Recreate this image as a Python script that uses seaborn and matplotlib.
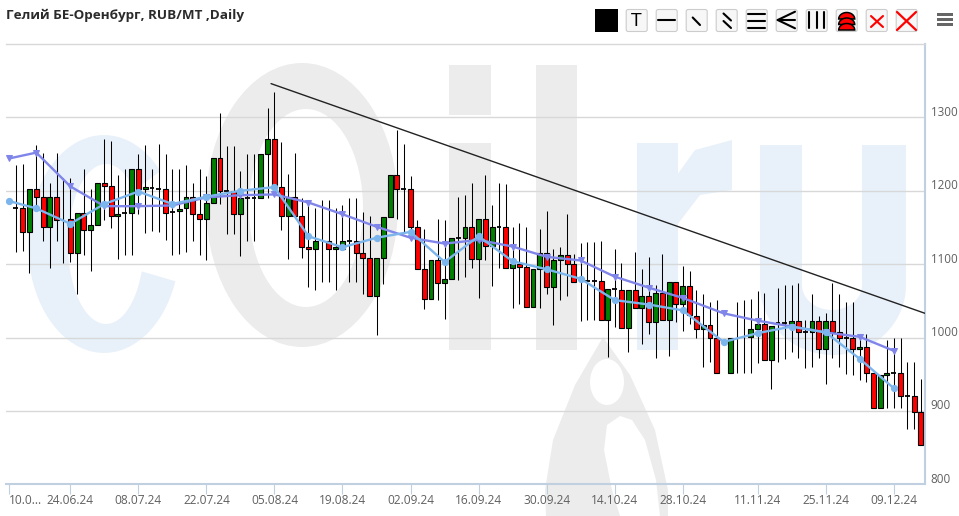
import numpy as np
import matplotlib
matplotlib.use('Agg')
import matplotlib.pyplot as plt
from matplotlib.patches import Rectangle, Ellipse, Polygon, FancyBboxPatch
from matplotlib.transforms import ScaledTranslation
import seaborn as sns

nan = float('nan')

# candles, first one is index 1. red when close < open
candle_open = [
    1176, 1176, 1144, 1202, 1191, 1151, 1191, nan, 1161, 1115,
    1170, 1146, 1153, 1210, 1207, 1165, 1170, 1170, 1229, 1202,
    1204, 1203, 1203, 1171, 1172, 1176, 1191, 1169, 1161, 1184,
    1244, 1200, 1200, 1169, 1190, 1190, 1190, 1250, 1270, 1205,
    1165, 1191, 1165, 1124, 1120, nan, 1131, 1120, 1120, 1132,
    1132, 1115, 1109, 1056, 1109, 1164, 1221, 1203, 1202, 1150,
    1093, 1053, 1105, 1074, 1080, 1136, 1136, 1151, 1107, 1162,
    1125, 1151, 1151, 1095, 1100, 1096, 1041, 1094, 1115, 1069,
    1106, 1113, 1100, nan, 1077, 1077, 1077, 1024, 1066, 1065,
    1013, 1065, 1040, 1057, 1021, 1061, 1024, 1075, 1046, 1070,
    1030, 1011, 1017, 1000, nan, 951, nan, nan, 1001, 1012,
    1019, 969, 1020, 1020, 1019, 1023, 1008, 1008, 1023, 985,
    1023, 1008, 999, 999, 985, 987, 951, 904, 949, 952,
    951, 920, 920, 899]
candle_close = [
    1176, 1144, 1202, 1191, 1151, 1191, 1160, nan, 1115, 1170,
    1146, 1153, 1210, 1207, 1165, 1169, 1170, 1229, 1202, 1205,
    1204, 1203, 1170, 1171, 1175, 1191, 1169, 1161, 1184, 1244,
    1200, 1200, 1169, 1190, 1190, 1190, 1250, 1270, 1205, 1165,
    1191, 1165, 1124, 1120, 1131, nan, 1120, 1124, 1132, 1132,
    1115, 1109, 1056, 1109, 1164, 1221, 1203, 1203, 1150, 1093,
    1053, 1105, 1074, 1080, 1135, 1136, 1150, 1107, 1162, 1125,
    1151, 1151, 1095, 1100, 1096, 1041, 1094, 1115, 1069, 1106,
    1113, 1100, 1075, nan, 1077, 1077, 1024, 1066, 1066, 1013,
    1065, 1040, 1057, 1021, 1061, 1024, 1075, 1046, 1070, 1031,
    1011, 1017, 1000, 951, nan, 999, nan, nan, 1012, 1019,
    969, 1016, 1020, 1020, 1023, 1008, 1008, 1023, 985, 1023,
    1008, 1000, 999, 985, 987, 951, 904, 949, 952, 952,
    920, 920, 899, 854]
candle_high = [
    1235, 1236, 1202, 1262, 1251, 1211, 1251, 1218, 1218, 1170,
    1230, 1203, 1210, 1271, 1268, 1222, 1230, 1230, 1250, 1262,
    1230, 1264, 1250, 1230, 1230, 1235, 1210, 1230, 1220, 1244,
    1306, 1261, 1261, 1227, 1250, 1250, 1250, 1313, 1334, 1266,
    1223, 1251, 1190, 1188, 1176, 1188, 1188, 1176, 1180, 1190,
    1190, 1171, 1166, 1109, 1164, 1221, 1283, 1264, 1220, 1160,
    1148, 1105, 1161, 1160, 1135, 1192, 1194, 1210, 1162, 1221,
    1181, 1210, 1209, 1150, 1156, 1151, 1094, 1148, 1172, 1121,
    1124, 1169, 1114, 1129, 1130, 1130, 1132, 1066, 1120, 1101,
    1065, 1117, 1093, 1110, 1071, 1114, 1075, 1076, 1098, 1091,
    1065, 1060, 1049, 1051, nan, 999, 1048, 1051, 1052, 1063,
    1061, 1016, 1068, 1071, 1071, 1074, 1024, 1060, 1030, 1034,
    1074, 1059, 1049, 1049, 1005, 1005, 951, 949, 997, 999,
    999, 966, 966, 944]
candle_low = [
    1117, 1118, 1088, 1178, 1132, 1095, 1132, 1102, 1103, 1060,
    1113, 1091, 1153, 1160, 1149, 1107, 1113, 1113, 1169, 1143,
    1145, 1144, 1133, 1113, 1114, 1117, 1132, 1113, 1105, 1184,
    1182, 1141, 1141, 1111, 1132, 1132, 1190, 1190, 1205, 1147,
    1107, 1165, 1109, 1069, 1065, 1076, 1076, 1065, 1120, 1076,
    1076, 1059, 1056, 1004, 1073, 1164, 1162, 1143, 1137, 1093,
    1039, 1053, 1051, 1025, 1081, 1078, 1083, 1095, 1054, 1106,
    1070, 1095, 1095, 1040, 1046, 1041, 1041, 1040, 1060, 1017,
    1051, 1057, 1075, 1022, 1024, 1024, 1024, 973, 1014, 1013,
    980, 1040, 991, 1005, 972, 1024, 975, 1021, 1009, 1019,
    999, 960, 967, 951, nan, 951, 951, 951, 952, 965,
    969, 930, 967, 971, 980, 972, 959, 960, 972, 937,
    972, 960, 950, 949, 942, 939, 904, 904, 904, 904,
    904, 875, 875, 854]

# the two moving averages have a point only on the labelled days
ma_days = [0, 4, 9, 14, 19, 24, 29, 34, 39, 44, 49, 54, 59, 64, 69, 74, 79, 84, 89, 94, 99, 105, 110, 115, 120, 125, 130]
ma_slow = [1244, 1252, 1206, 1179, 1179, 1180, 1191, 1194, 1195, 1184, 1168, 1151, 1136, 1128,
           1133, 1124, 1110, 1105, 1083, 1068, 1054, 1033, 1023, 1015, 1007, 1001, 982]
ma_fast = [1186, 1176, 1155, 1182, 1199, 1182, 1192, 1200, 1205, 1138, 1123, 1136, 1144, 1103,
           1138, 1104, 1093, 1080, 1051, 1045, 1037, 994, 1006, 1015, 1007, 971, 931]

trend_days = [38.5, 134.6]
trend_vals = [1346, 1033]

tick_days = [0, 9, 19, 29, 39, 49, 59, 69, 79, 89, 99, 110, 120, 130]
tick_labels = ['10.0...', '24.06.24', '08.07.24', '22.07.24', '05.08.24', '19.08.24', '02.09.24',
               '16.09.24', '30.09.24', '14.10.24', '28.10.24', '11.11.24', '25.11.24', '09.12.24']
y_ticks = [800, 900, 1000, 1100, 1200, 1300]

title = 'Гелий БЕ-Оренбург, RUB/MT ,Daily'

sns.set_theme(style='white')
plt.rcParams['font.family'] = ['Open Sans', 'DejaVu Sans']

W, H = 959, 516
fig = plt.figure(figsize=(W / 100, H / 100), dpi=100, facecolor='white')

# background layer in pixels: watermark and toolbar
bg = fig.add_axes([0, 0, 1, 1], zorder=-1)
bg.set_xlim(0, W)
bg.set_ylim(H, 0)
bg.axis('off')

WM_GRAY = '#ececec'
WM_BLUE = '#e8f1fa'


def arc(cx, cy, rx, ry, a0, a1):
    t = np.radians(np.linspace(a0, a1, 60))
    return np.column_stack([cx + rx * np.cos(t), cy - ry * np.sin(t)])


# c
bg.add_patch(Polygon(np.vstack([arc(104, 244, 76, 109, 42, 340), arc(106, 244, 38, 80, 340, 42)]), color=WM_BLUE, lw=0))
# O
bg.add_patch(Ellipse((302, 205), 192, 284, color=WM_GRAY, lw=0))
bg.add_patch(Ellipse((306, 208), 114, 198, color='white', lw=0))
# i, l
bg.add_patch(Rectangle((449, 65), 42, 50, color=WM_GRAY, lw=0))
bg.add_patch(Rectangle((449, 143), 42, 207, color=WM_GRAY, lw=0))
bg.add_patch(Rectangle((536, 65), 41, 285, color=WM_GRAY, lw=0))
# drop
bg.add_patch(Polygon([(603, 337), (575, 385), (553, 440), (545, 490), (546, 516), (668, 516), (668, 490),
                      (655, 430), (630, 375)], color=WM_GRAY, lw=0))
bg.add_patch(Ellipse((607, 382), 34, 46, color='white', lw=0))
bg.add_patch(Polygon([(620, 416), (607, 425), (604, 450), (612, 490), (620, 516), (660, 516), (656, 480),
                      (645, 440), (632, 420)], color='white', lw=0))
# r
bg.add_patch(Rectangle((637, 143), 41, 207, color=WM_BLUE, lw=0))
bg.add_patch(Polygon([(677, 175), (695, 150), (732, 140), (732, 190), (700, 195), (677, 225)], color=WM_BLUE, lw=0))
# u
bg.add_patch(Polygon(np.vstack([[(760, 145)], arc(833, 285, 73, 70, 180, 360), [(906, 145), (862, 145)],
                                arc(832, 285, 30, 25, 360, 180), [(802, 145)]]), color=WM_BLUE, lw=0))

bg.text(6, 15, title, fontsize=9.7, fontweight='bold', color='#2b2b2b', va='center', ha='left')

# toolbar
bg.add_patch(Rectangle((595, 9), 23, 23, color='black', lw=0))
for cx in [636.7, 666.7, 696.7, 726.7, 756.7, 786.7, 816.7, 846.7, 876.7, 906.7]:
    bg.add_patch(FancyBboxPatch((cx - 10, 10), 20, 21, boxstyle='round,pad=0.5,rounding_size=2',
                                fc='#f7f7f7', ec='#cccccc', lw=0.8))
bg.text(636.7, 21, 'T', fontsize=14, color='black', ha='center', va='center')
bg.plot([657.7, 675], [20, 20], color='black', lw=1.5)
bg.plot([692.7, 700], [17.5, 25], color='black', lw=1.5)
bg.plot([723.5, 731], [13.5, 20.5], color='black', lw=1.5)
bg.plot([723.5, 731], [21, 28], color='black', lw=1.5)
for y in [14, 20.7, 28.3]:
    bg.plot([748, 765], [y, y], color='black', lw=1.5)
for y in [11.7, 20, 28.3]:
    bg.plot([777.7, 795], [20, y], color='black', lw=1.5)
for x in [809.3, 816.7, 824.3]:
    bg.plot([x, x], [11.7, 28.3], color='black', lw=1.5)
for y in [19, 24.5, 30]:
    bg.add_patch(Polygon(arc(846.7, y, 8, 6.5, 0, 180), fc='red', ec='black', lw=1.1))
bg.plot([871, 883], [16, 27], color='red', lw=1.5)
bg.plot([871, 883], [27, 16], color='red', lw=1.5)
bg.plot([897, 916], [12, 30], color='red', lw=1.6)
bg.plot([897, 916], [30, 12], color='red', lw=1.6)
for y in [14.5, 19.5, 24.5]:
    bg.add_patch(Rectangle((936.7, y - 1.5), 16.3, 3, color='#666666', lw=0))

# main chart
ax = fig.add_axes([6 / W, (H - 484.3) / H, 919 / W, 440.3 / H], zorder=1)
ax.patch.set_visible(False)

days = np.arange(1, 135)
o = np.array(candle_open)
c = np.array(candle_close)
hi = np.array(candle_high)
lo = np.array(candle_low)

ax.vlines(days, lo, hi, color='black', lw=0.75, zorder=2)
red = c < o
green = c > o
doji = c == o
ax.bar(days[red], (o - c)[red], bottom=c[red], width=0.72, color='#ff0000', edgecolor='black', lw=0.8, zorder=3)
ax.bar(days[green], (c - o)[green], bottom=o[green], width=0.72, color='#008000', edgecolor='black', lw=0.8, zorder=3)
ax.hlines(c[doji], days[doji] - 0.36, days[doji] + 0.36, color='black', lw=1.3, zorder=3)

sns.lineplot(x=trend_days, y=trend_vals, color='#222222', lw=1, ax=ax, zorder=4)
sns.lineplot(x=ma_days, y=ma_slow, color='#8085e9', lw=1.7, marker='v', markersize=4.5,
             markeredgecolor='#8085e9', ax=ax, zorder=5)
sns.lineplot(x=ma_days, y=ma_fast, color='#7cb5ec', lw=1.7, marker='o', markersize=4.5,
             markeredgecolor='#7cb5ec', ax=ax, zorder=6)

ax.set_xlim(-0.448, 134.6)
ax.set_ylim(800, 1400)
ax.set_xlabel('')
ax.set_ylabel('')

ax.set_axisbelow(True)
ax.yaxis.grid(True, color='#d8d8d8', lw=1)
ax.xaxis.grid(False)
ax.yaxis.tick_right()
ax.set_yticks(y_ticks)
ax.set_yticklabels([str(v) for v in y_ticks])
ax.tick_params(axis='y', length=0, pad=4, labelsize=8.4, labelcolor='#606060')
shift = ScaledTranslation(0, -1.1 / 72, fig.dpi_scale_trans)
for lab in ax.get_yticklabels():
    lab.set_va('bottom')
    lab.set_transform(lab.get_transform() + shift)
ax.set_xticks(tick_days)
ax.set_xticklabels(tick_labels)
ax.tick_params(axis='x', bottom=True, length=6.9, width=0.8, color='#c0d0e0', pad=0, labelsize=8.6, labelcolor='#606060')
ax.get_xticklabels()[0].set_ha('left')

ax.spines['left'].set_visible(False)
ax.spines['top'].set_color('#d8d8d8')
ax.spines['top'].set_linewidth(1)
for side in ['right', 'bottom']:
    ax.spines[side].set_color('#c0d0e0')
    ax.spines[side].set_linewidth(1.5)

fig.savefig('out.png', dpi=100)
